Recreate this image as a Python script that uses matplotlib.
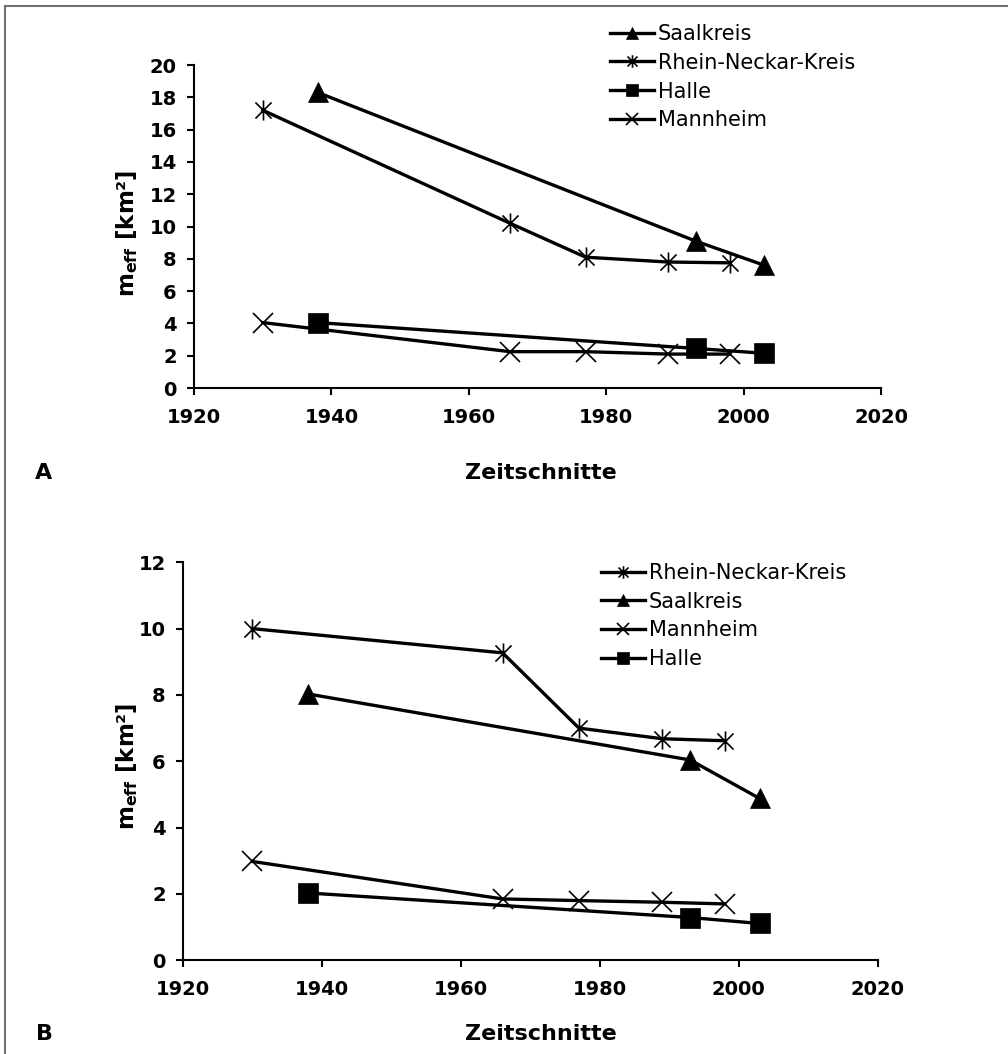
import matplotlib
matplotlib.use("Agg")
import matplotlib.pyplot as plt
from matplotlib.path import Path
from matplotlib.lines import Line2D

# ---------------- data ----------------
years_long = [1930, 1966, 1977, 1989, 1998]   # Rhein-Neckar-Kreis, Mannheim
years_short = [1938, 1993, 2003]              # Saalkreis, Halle

A_saalkreis = [18.3, 9.1, 7.6]
A_rnk = [17.2, 10.2, 8.1, 7.8, 7.75]
A_halle = [4.05, 2.45, 2.15]
A_mannheim = [4.05, 2.25, 2.25, 2.1, 2.1]

B_rnk = [10.0, 9.27, 7.0, 6.68, 6.62]
B_saalkreis = [8.03, 6.04, 4.88]
B_mannheim = [2.98, 1.85, 1.8, 1.75, 1.7]
B_halle = [2.03, 1.29, 1.11]

x_ticks = [1920, 1940, 1960, 1980, 2000, 2020]
A_yticks = list(range(0, 21, 2))
B_yticks = list(range(0, 13, 2))

# ---------------- styling ----------------
plt.rcParams['font.family'] = ['DejaVu Sans']
plt.rcParams['mathtext.fontset'] = 'dejavusans'

star = Path([(0, -1), (0, 1), (-0.8, -0.8), (0.8, 0.8), (-0.8, 0.8), (0.8, -0.8)],
            [Path.MOVETO, Path.LINETO, Path.MOVETO, Path.LINETO, Path.MOVETO, Path.LINETO])

LW = 2.4
styles = {
    'Saalkreis': dict(marker='^', ms=15, mfc='black', mec='black', mew=0.5),
    'Rhein-Neckar-Kreis': dict(marker=star, ms=14.5, mfc='none', mec='black', mew=1.2),
    'Halle': dict(marker='s', ms=14, mfc='black', mec='black', mew=0.5),
    'Mannheim': dict(marker='x', ms=14.5, mfc='none', mec='black', mew=1.2),
}

W, H = 1008, 1054
fig = plt.figure(figsize=(W / 100, H / 100), dpi=100)

def frac_rect(l, t, r, b):
    return [l / W, 1 - b / H, (r - l) / W, (b - t) / H]

axA = fig.add_axes(frac_rect(194, 65, 881, 388))
axB = fig.add_axes(frac_rect(183, 562.3, 877.7, 960.3))

def draw(ax, series, order, ylim, yticks, ylab_xy, xlab_xy, leg_anchor):
    handles = {}
    for name, (xs, ys) in series.items():
        st = styles[name]
        h, = ax.plot(xs, ys, color='black', lw=LW, label=name, clip_on=False,
                     solid_joinstyle='round', **st)
        handles[name] = h
    ax.set_xlim(1920, 2020)
    ax.set_ylim(*ylim)
    ax.set_xticks(x_ticks)
    ax.set_yticks(yticks)
    for s in ['top', 'right']:
        ax.spines[s].set_visible(False)
    for s in ['left', 'bottom']:
        ax.spines[s].set_linewidth(1.5)
    ax.tick_params(axis='both', direction='out', length=5, width=1.5,
                   labelsize=14)
    ax.tick_params(axis='x', pad=9.5)
    ax.tick_params(axis='y', pad=7.5)
    for lab in ax.get_xticklabels() + ax.get_yticklabels():
        lab.set_fontweight('bold')
    ax.set_ylabel(r'm$_{\mathbf{eff}}$ [km²]', fontsize=16.5, fontweight='bold')
    ax.yaxis.set_label_coords(*ylab_xy)
    ax.yaxis.label.set_va('center')
    ax.set_xlabel('Zeitschnitte', fontsize=16, fontweight='bold')
    ax.xaxis.set_label_coords(*xlab_xy)
    ax.xaxis.label.set_va('center')
    leg = ax.legend([handles[n] for n in order], order, loc='upper left',
                    bbox_to_anchor=leg_anchor, bbox_transform=fig.transFigure,
                    frameon=False, fontsize=15, markerscale=0.62,
                    handlelength=2.1, handletextpad=0.2, labelspacing=0.42,
                    borderpad=0, borderaxespad=0)
    return leg

draw(axA,
     {'Saalkreis': (years_short, A_saalkreis),
      'Rhein-Neckar-Kreis': (years_long, A_rnk),
      'Halle': (years_short, A_halle),
      'Mannheim': (years_long, A_mannheim)},
     ['Saalkreis', 'Rhein-Neckar-Kreis', 'Halle', 'Mannheim'],
     (0, 20), A_yticks,
     ((127 - 194) / 687, (388 - 233.5) / 323),
     ((541 - 194) / 687, (388 - 473) / 323),
     (610 / W, 1 - 24 / H))

draw(axB,
     {'Rhein-Neckar-Kreis': (years_long, B_rnk),
      'Saalkreis': (years_short, B_saalkreis),
      'Mannheim': (years_long, B_mannheim),
      'Halle': (years_short, B_halle)},
     ['Rhein-Neckar-Kreis', 'Saalkreis', 'Mannheim', 'Halle'],
     (0, 12), B_yticks,
     ((126.7 - 183) / 694.7, (960.3 - 766.5) / 398),
     ((541 - 183) / 694.7, (960.3 - 1034) / 398),
     (601 / W, 1 - 563 / H))

fig.text(44 / W, 1 - 473 / H, 'A', fontsize=16, fontweight='bold', ha='center', va='center')
fig.text(44 / W, 1 - 1034 / H, 'B', fontsize=16, fontweight='bold', ha='center', va='center')

# outer frame (left and top edges)
fig.add_artist(Line2D([5 / W, 5 / W], [0, 1 - 6 / H], transform=fig.transFigure,
                      color='#707070', lw=1.5))
fig.add_artist(Line2D([5 / W, 1], [1 - 6 / H, 1 - 6 / H], transform=fig.transFigure,
                      color='#707070', lw=1.5))

fig.savefig('out.png', dpi=100)
